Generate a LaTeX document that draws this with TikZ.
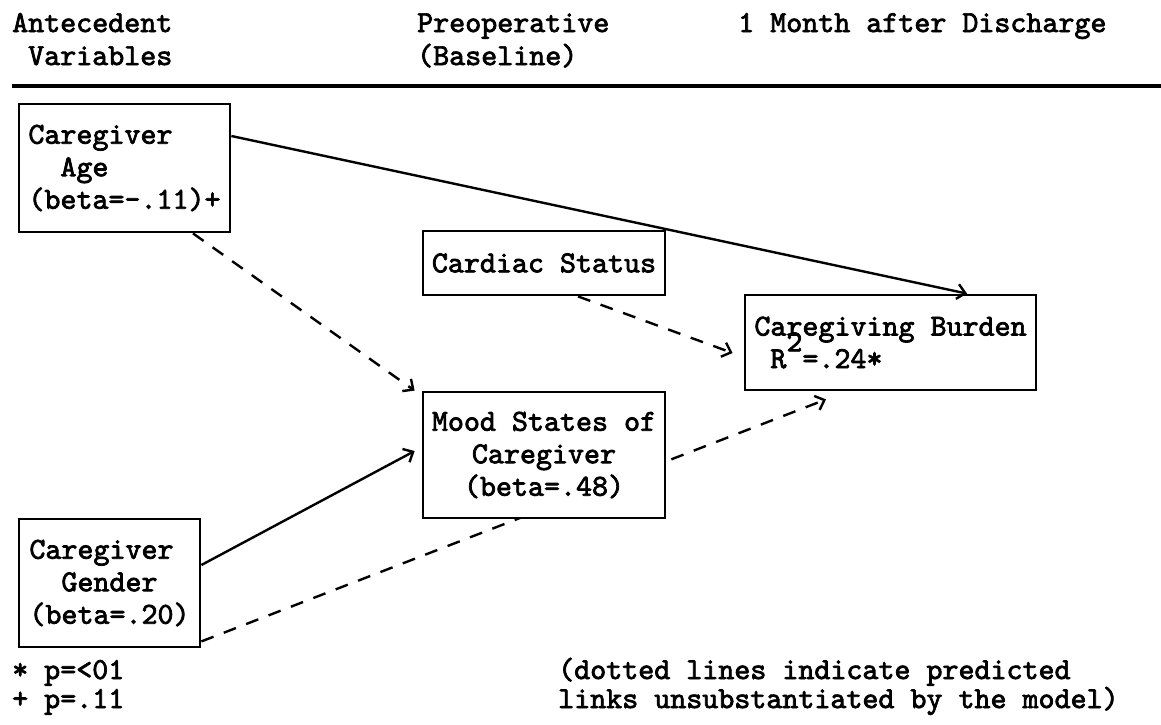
\documentclass[tikz,border=0pt]{standalone}
\usepackage{fontspec}
\usetikzlibrary{arrows.meta,backgrounds}
% heavy typewriter face
\newfontfamily\typer{lmmono10-regular.otf}[FakeBold=2.4]
\begin{document}
\begin{tikzpicture}[x=1pt,y=-1pt,
  every node/.style={font=\typer\fontsize{30.5}{32.5}\selectfont\bfseries, inner sep=0pt},
  box/.style={draw, line width=2.8pt, fill=white, rectangle, inner sep=0pt},
  txt/.style={anchor=base west},
  link/.style={line width=2.4pt, -{Straight Barb[length=8pt,width=15pt]}},
  guess/.style={link, dash pattern=on 13pt off 11pt}]
\useasboundingbox (0,0) rectangle (1161,724);

% column headings
\node[txt] (hAnteA) at (12,32) {Antecedent};
\node[txt] (hAnteB) at (28,65) {Variables};
\node[txt] (hPreA) at (417,32) {Preoperative};
\node[txt] (hPreB) at (417,65) {(Baseline)};
\node[txt] (hPost) at (738,32) {1 Month after Discharge};
\coordinate (ruleL) at (12,86);
\coordinate (ruleR) at (1161,86);
\draw[line width=3.5pt] (ruleL) -- (ruleR);

% variables
\node[box, minimum width=211pt, minimum height=128pt, align=left] (age) at (124.5,168)
  {Caregiver\\\phantom{xx}Age\\(beta=-.11)+};
\node[box, minimum width=181pt, minimum height=128pt, align=left] (gender) at (109.5,583)
  {Caregiver\\\phantom{xx}Gender\\(beta=.20)};
\node[box, minimum width=242pt, minimum height=64pt] (cardiac) at (544,263) {Cardiac Status};
\node[box, minimum width=242pt, minimum height=126pt, align=center] (mood) at (544,455)
  {Mood States of\\Caregiver\\(beta=.48)};
\node[box, minimum width=291pt, minimum height=95pt, align=left] (burden) at (890.5,342.5)
  {Caregiving Burden\\\phantom{x}R\smash{\raisebox{0.55em}{2}}=.24*};

% paths
\draw[link] ([yshift=32pt]age.east) -- ([xshift=76.5pt]burden.north);
\draw[guess] ([xshift=68.5pt]age.south) -- ([xshift=-7pt]mood.north west);
\draw[link] ([yshift=18pt]gender.east) -- ([xshift=-7pt,yshift=4pt]mood.west);
\draw[guess] ([xshift=34pt]cardiac.south) -- ([xshift=-11pt,yshift=-10.5pt]burden.west);
\begin{scope}[on background layer]
  \fill[white] (0,0) rectangle (1161,724);
  \draw[guess] ([yshift=7pt]gender.south east) -- ([xshift=-64.5pt,yshift=-8pt]burden.south);
\end{scope}

% notes
\node[txt] (sigA) at (12,679) {* p=<01};
\node[txt] (sigB) at (12,708) {+ p=.11};
\node[txt] (noteA) at (558,679) {(dotted lines indicate predicted};
\node[txt] (noteB) at (558,708) {links unsubstantiated by the model)};
\end{tikzpicture}
\end{document}
